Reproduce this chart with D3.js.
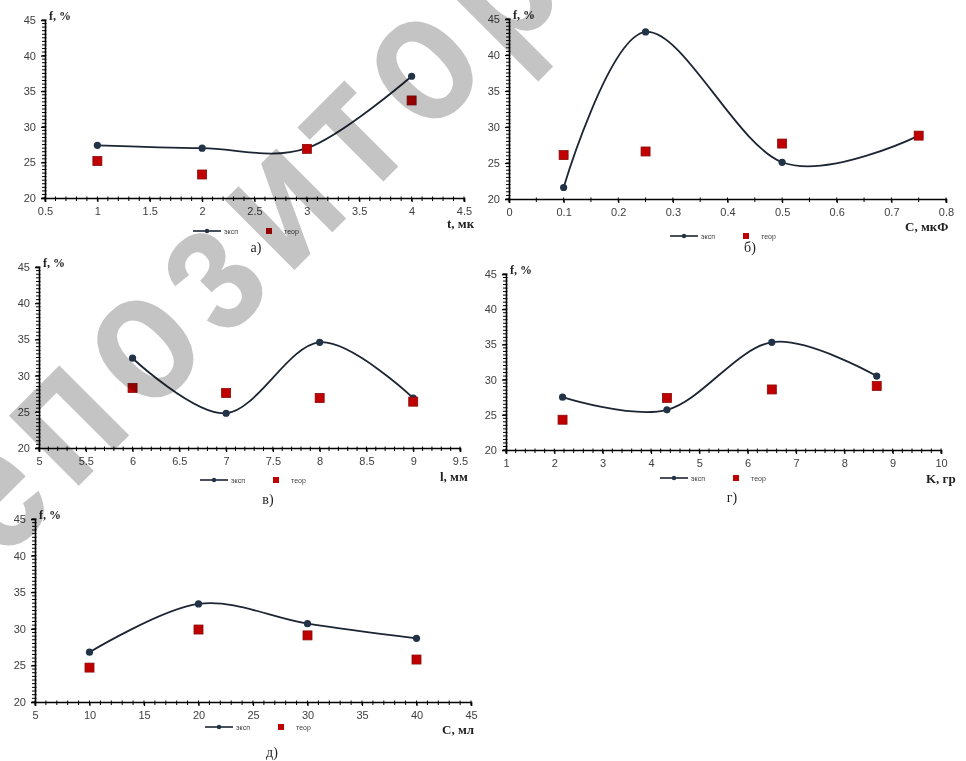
<!DOCTYPE html>
<html>
<head>
<meta charset="utf-8">
<script src="https://cdn.jsdelivr.net/npm/d3@7"></script>
<style>
	body { margin: 0; background: #fff; }
	svg { display: block; }
</style>
</head>
<body>
<svg id="chart" width="966" height="761"></svg>
<script>
// --- data ---
const aX = [1, 2, 3, 4]
const aExp = [27.4, 27.0, 27.0, 37.1]
const aTeor = [25.2, 23.3, 26.9, 33.7]
const aXTicks = [0.5, 1, 1.5, 2, 2.5, 3, 3.5, 4, 4.5]

const bX = [0.1, 0.25, 0.5, 0.75]
const bExp = [21.6, 43.2, 25.1, 28.8]
const bTeor = [26.1, 26.6, 27.7, 28.8]
const bXTicks = [0, 0.1, 0.2, 0.3, 0.4, 0.5, 0.6, 0.7, 0.8]

const vX = [6, 7, 8, 9]
const vExp = [32.4, 24.8, 34.6, 26.9]
const vTeor = [28.3, 27.6, 26.9, 26.4]
const vXTicks = [5, 5.5, 6, 6.5, 7, 7.5, 8, 8.5, 9, 9.5]

const gX = [2.17, 4.33, 6.5, 8.67]
const gExp = [27.5, 25.7, 35.3, 30.5]
const gTeor = [24.3, 27.4, 28.6, 29.1]
const gXTicks = [1, 2, 3, 4, 5, 6, 7, 8, 9, 10]

const dX = [10, 20, 30, 40]
const dExp = [26.8, 33.4, 30.7, 28.7]
const dTeor = [24.7, 29.9, 29.1, 25.8]
const dXTicks = [5, 10, 15, 20, 25, 30, 35, 40, 45]

const yTicks = [20, 25, 30, 35, 40, 45]
const seriesNames = ["эксп", "теор"]
const watermark = "Репозиторий"

// --- layout of the five panels ---
const panels = [
	{x: aX, exp: aExp, teor: aTeor, ticks: aXTicks, minor: 0.1, left: 45, right: 464, top: 20, bottom: 198,
		xTitle: "t, мкс", xTitlePos: [447, 228], clipRight: 474, legend: [193, 231], tag: "а)", tagPos: [256, 252]},
	{x: bX, exp: bExp, teor: bTeor, ticks: bXTicks, minor: 0.05, left: 509, right: 946, top: 19, bottom: 199,
		xTitle: "C, мкФ", xTitlePos: [905, 231], clipRight: 966, legend: [670, 236], tag: "б)", tagPos: [750, 252]},
	{x: vX, exp: vExp, teor: vTeor, ticks: vXTicks, minor: 0.1, left: 39, right: 460, top: 267, bottom: 448,
		xTitle: "l, мм", xTitlePos: [440, 481], clipRight: 473, legend: [200, 480], tag: "в)", tagPos: [268, 504]},
	{x: gX, exp: gExp, teor: gTeor, ticks: gXTicks, minor: 0.2, left: 506, right: 941, top: 274, bottom: 450,
		xTitle: "K, гр", xTitlePos: [926, 483], clipRight: 966, legend: [660, 478], tag: "г)", tagPos: [732, 502]},
	{x: dX, exp: dExp, teor: dTeor, ticks: dXTicks, minor: 1, left: 35, right: 471, top: 519, bottom: 702,
		xTitle: "C, мл", xTitlePos: [442, 734], clipRight: 478, legend: [205, 727], tag: "д)", tagPos: [272, 757]},
]

const svg = d3.select("#chart")
const tickFont = "'Liberation Sans', Arial, sans-serif"
const serif = "'Liberation Serif', 'Times New Roman', serif"

panels.forEach((p, i) => {
	const g = svg.append("g").attr("class", "panel")
	const dom = p.ticks
	const x = d3.scaleLinear().domain([dom[0], dom[dom.length - 1]]).range([p.left, p.right])
	const y = d3.scaleLinear().domain([20, 45]).range([p.bottom, p.top])

	//minor ticks, drawn by hand so they sit between the labelled ones
	const xMinor = d3.range(Math.round((dom[dom.length - 1] - dom[0]) / p.minor) + 1).map(k => dom[0] + k * p.minor)
	g.append("g").selectAll("line").data(xMinor).join("line")
		.attr("x1", d => x(d)).attr("x2", d => x(d))
		.attr("y1", p.bottom - 1.5).attr("y2", p.bottom + 3)
		.attr("stroke", "#000").attr("stroke-width", 1)
	const yMinor = d3.range(51).map(k => 20 + k * 0.5)
	g.append("g").selectAll("line").data(yMinor).join("line")
		.attr("y1", d => y(d)).attr("y2", d => y(d))
		.attr("x1", p.left - 3).attr("x2", p.left + 1.5)
		.attr("stroke", "#000").attr("stroke-width", 1)

	const xAxis = g.append("g").attr("transform", `translate(0,${p.bottom})`)
		.call(d3.axisBottom(x).tickValues(p.ticks).tickSize(4).tickPadding(4).tickFormat(d3.format("~g")))
	const yAxis = g.append("g").attr("transform", `translate(${p.left},0)`)
		.call(d3.axisLeft(y).tickValues(yTicks).tickSize(4).tickPadding(5))
	;[xAxis, yAxis].forEach(ax => {
		ax.select(".domain").attr("stroke", "#000").attr("stroke-width", 1.6)
		ax.selectAll(".tick line").attr("stroke", "#000").attr("stroke-width", 1.2)
		ax.selectAll(".tick text").attr("fill", "#404040").attr("font-family", tickFont).attr("font-size", 11)
	})
	xAxis.selectAll(".tick text").attr("dy", "0.85em")

	g.append("text").attr("x", p.left + 4).attr("y", p.top)
		.attr("font-family", serif).attr("font-size", 12).attr("font-weight", "bold").attr("fill", "#222")
		.text("f, %")

	const clipId = "clip" + i
	svg.append("clipPath").attr("id", clipId).append("rect")
		.attr("x", 0).attr("y", 0).attr("width", p.clipRight).attr("height", 761)
	g.append("text").attr("x", p.xTitlePos[0]).attr("y", p.xTitlePos[1])
		.attr("clip-path", `url(#${clipId})`)
		.attr("font-family", serif).attr("font-size", 13).attr("font-weight", "bold").attr("fill", "#222")
		.text(p.xTitle)

	const pts = p.x.map((v, k) => [x(v), y(p.exp[k])])
	g.append("path").attr("d", d3.line().curve(d3.curveCardinal.tension(0))(pts))
		.attr("fill", "none").attr("stroke", "#1c2533").attr("stroke-width", 1.8)
	g.append("g").selectAll("circle").data(pts).join("circle")
		.attr("cx", d => d[0]).attr("cy", d => d[1]).attr("r", 3.6)
		.attr("fill", "#223247")
	g.append("g").selectAll("rect").data(p.x.map((v, k) => [x(v), y(p.teor[k])])).join("rect")
		.attr("x", d => d[0] - 4.5).attr("y", d => d[1] - 4.5).attr("width", 9).attr("height", 9)
		.attr("fill", "#c00000").attr("stroke", "#8a0a0a").attr("stroke-width", 0.8)

	//legend
	const [lx, ly] = p.legend
	const leg = g.append("g").attr("transform", `translate(${lx},${ly})`)
	leg.append("line").attr("x1", 0).attr("x2", 28).attr("y1", 0).attr("y2", 0)
		.attr("stroke", "#1c2533").attr("stroke-width", 1.6)
	leg.append("circle").attr("cx", 14).attr("cy", 0).attr("r", 2.2).attr("fill", "#223247")
	leg.append("rect").attr("x", 73).attr("y", -3).attr("width", 6).attr("height", 6).attr("fill", "#c00000")
	leg.selectAll("text").data(seriesNames).join("text")
		.attr("x", (d, k) => k ? 91 : 31).attr("y", 2.5)
		.attr("font-family", tickFont).attr("font-size", 7).attr("fill", "#404040")
		.text(d => d)

	g.append("text").attr("x", p.tagPos[0]).attr("y", p.tagPos[1]).attr("text-anchor", "middle")
		.attr("font-family", serif).attr("font-size", 14).attr("fill", "#222")
		.text(p.tag)
})

// grey watermark laid across the sheet at -45deg.
// The "п" centre and the second "о" centre are pinned to where they sit in the original.
const wmSize = 187, wmSquash = 0.82
const pinA = [75, 421], pinB = [430, 65]
const wm = svg.append("g").style("mix-blend-mode", "multiply")
const wmText = wm.append("text").text(watermark)
	.attr("font-family", "'Liberation Sans', Arial, sans-serif").attr("font-weight", "bold")
	.attr("font-size", wmSize).attr("fill", "#c4c4c4")
const charMid = k => {
	const n = wmText.node()
	return (n.getStartPositionOfChar(k).x + n.getEndPositionOfChar(k).x) / 2
}
const wantDist = Math.hypot(pinB[0] - pinA[0], pinB[1] - pinA[1]) / wmSquash
const spacing = (wantDist - (charMid(7) - charMid(2))) / 5
wmText.attr("letter-spacing", spacing)
const c2 = charMid(2), xh = wmSize * 0.519
wm.attr("transform", `translate(${pinA}) rotate(-45) scale(${wmSquash},1) translate(${-c2},${xh / 2})`)
</script>
</body>
</html>
